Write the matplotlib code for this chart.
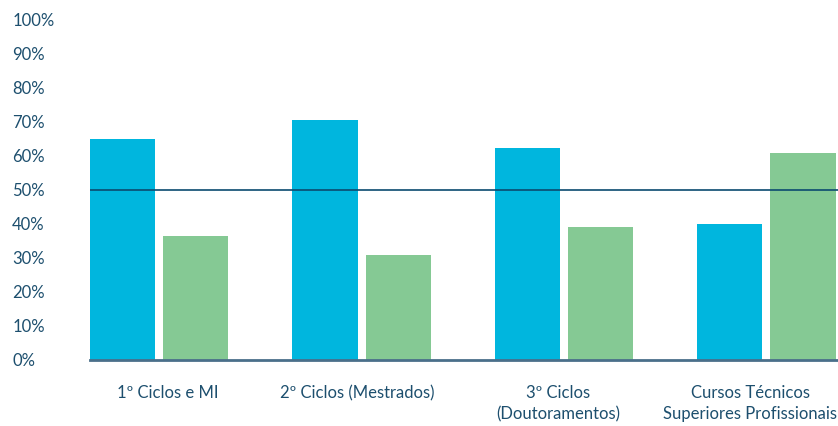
import numpy as np
import matplotlib
matplotlib.use("Agg")
import matplotlib.pyplot as plt

# data
categories = ["1º Ciclos e MI", "2º Ciclos (Mestrados)", "3º Ciclos\n(Doutoramentos)",
              "Cursos Técnicos\nSuperiores Profissionais"]
series_blue = [65, 70.5, 62.5, 40]
series_green = [36.5, 31, 39, 61]
y_ticks = [0, 10, 20, 30, 40, 50, 60, 70, 80, 90, 100]
reference_line = 50

BLUE = "#00b6de"
GREEN = "#85c994"
TEXT = "#1d4f6e"

plt.rcParams['font.family'] = ['Lato', 'DejaVu Sans']

fig = plt.figure(figsize=(8.38, 4.26), dpi=100)
ax = fig.add_axes([90 / 838, 66 / 426, 748 / 838, 340 / 426])

x = np.arange(len(categories))
width = 0.322
offset = 0.181
ax.bar(x - offset, series_blue, width, color=BLUE, zorder=2)
ax.bar(x + offset, series_green, width, color=GREEN, zorder=2)
ax.axhline(reference_line, color="#0b4a6f", linewidth=1.2, zorder=3)

ax.set_xlim(-0.342, 3.354)
ax.set_ylim(0, 100)
ax.set_yticks(y_ticks)
ax.set_yticklabels([f"{v}%" for v in y_ticks], ha="left")
ax.tick_params(axis="y", length=0, pad=56, labelsize=12, labelcolor=TEXT)
ax.set_xticks(x)
ax.set_xticklabels([])
ax.tick_params(axis="x", length=0)

# category labels, shifted slightly left of the group centres as in the reference
label_pos = [0.04, 0.98, 1.97, 2.92]
for xp, name in zip(label_pos, categories):
    ax.text(xp, -7.5, name, ha="center", va="top", fontsize=12, color=TEXT,
            linespacing=1.35, transform=ax.transData, clip_on=False)

for side in ["top", "right", "left"]:
    ax.spines[side].set_visible(False)
ax.spines["bottom"].set_color("#4a6f8a")
ax.spines["bottom"].set_linewidth(2)
ax.spines["bottom"].set_zorder(4)

fig.savefig("out.png", dpi=100)
